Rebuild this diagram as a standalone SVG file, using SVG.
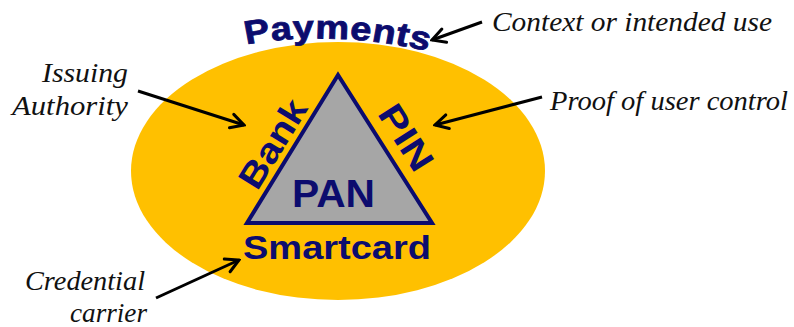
<svg xmlns="http://www.w3.org/2000/svg" width="794" height="327" viewBox="0 0 794 327">
  <style>
    .lbl { font-family: "Liberation Sans", Arial, sans-serif; font-weight: bold; fill: #0C0C6E; }
    .note { font-family: "Liberation Serif", "Times New Roman", serif; font-style: italic; font-size: 28px; fill: #111; }
    .arrow { stroke: #000; stroke-width: 3; fill: none; marker-end: url(#head); }
  </style>
  <defs>
    <marker id="head" markerUnits="userSpaceOnUse" markerWidth="18" markerHeight="18" viewBox="0 0 18 18" refX="16" refY="9" orient="auto">
      <path d="M3,2 L16,9 L3,16" fill="none" stroke="#000" stroke-width="3" stroke-linecap="round" stroke-linejoin="miter"/>
    </marker>
    <path id="arch" d="M251,46 Q333,28 423,53"/>
  </defs>

  <rect width="794" height="327" fill="#fff"/>

  <g id="context-oval">
    <ellipse cx="338" cy="171" rx="207" ry="129" fill="#FFC000"/>
  </g>

  <g id="payments">
    <text class="lbl" font-size="33" letter-spacing="0.5" stroke="#0C0C6E" stroke-width="0.8" transform="matrix(1.15,0,0,1,-50.25,0)">
      <textPath href="#arch" startOffset="50%" text-anchor="middle">Payments</textPath>
    </text>
  </g>

  <g id="triangle">
    <polygon points="338,75 247,223 432,223" fill="#A6A6A6" stroke="#0C0C6E" stroke-width="4" stroke-linejoin="miter"/>
  </g>

  <g id="pan">
    <text class="lbl" x="292" y="207" font-size="38" textLength="83" lengthAdjust="spacingAndGlyphs">PAN</text>
  </g>

  <g id="bank">
    <text class="lbl" font-size="35" text-anchor="middle" textLength="98" lengthAdjust="spacingAndGlyphs" transform="translate(283,150) rotate(-58.4)">Bank</text>
  </g>

  <g id="pin">
    <text class="lbl" font-size="35" text-anchor="middle" textLength="72" lengthAdjust="spacingAndGlyphs" transform="translate(396,144) rotate(57.6)">PIN</text>
  </g>

  <g id="smartcard">
    <text class="lbl" x="243" y="259" font-size="33" textLength="188" lengthAdjust="spacingAndGlyphs">Smartcard</text>
  </g>

  <g id="note-context">
    <text class="note" x="492" y="31" textLength="280" lengthAdjust="spacingAndGlyphs">Context or intended use</text>
  </g>
  <g id="note-proof">
    <text class="note" x="550" y="110" textLength="238" lengthAdjust="spacingAndGlyphs">Proof of user control</text>
  </g>
  <g id="note-issuing">
    <text class="note" x="42" y="82" textLength="86" lengthAdjust="spacingAndGlyphs">Issuing</text>
    <text class="note" x="12" y="115" textLength="116" lengthAdjust="spacingAndGlyphs">Authority</text>
  </g>
  <g id="note-credential">
    <text class="note" x="25" y="290" textLength="120" lengthAdjust="spacingAndGlyphs">Credential</text>
    <text class="note" x="70" y="322" textLength="77" lengthAdjust="spacingAndGlyphs">carrier</text>
  </g>

  <g id="connectors">
    <line class="arrow" x1="482" y1="22" x2="432" y2="40"/>
    <line class="arrow" x1="542" y1="97" x2="435" y2="125"/>
    <line class="arrow" x1="138" y1="91" x2="244" y2="125"/>
    <line class="arrow" x1="156" y1="298" x2="239" y2="260"/>
  </g>
</svg>
